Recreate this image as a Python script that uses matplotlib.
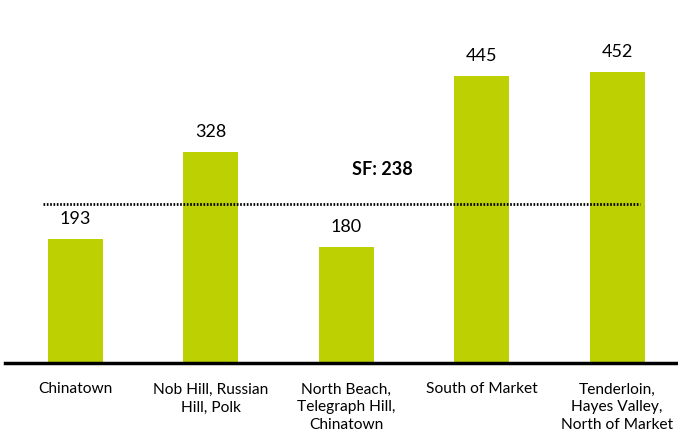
import matplotlib.pyplot as plt
import matplotlib.transforms as mtransforms

plt.rcParams['font.family'] = ['Lato', 'DejaVu Sans']

areas = ["Chinatown", "Nob Hill, Russian\nHill, Polk", "North Beach,\nTelegraph Hill,\nChinatown",
         "South of Market", "Tenderloin,\nHayes Valley,\nNorth of Market"]
values = [193, 328, 180, 445, 452]
sf_value = 238

bar_color = '#bdd002'

fig = plt.figure(figsize=(6.78, 4.45), dpi=100)
ax = fig.add_axes([5 / 678, 82 / 445, 673 / 678, 322 / 445])

x = list(range(len(values)))
ax.bar(x, values, width=0.406, color=bar_color)
for xi, v in zip(x, values):
    ax.annotate(str(v), (xi, v), xytext=(0, 12), textcoords='offset pixels',
                ha='center', va='bottom', fontsize=13)

# city-wide reference line (nudged up a few pixels like the original)
shift = mtransforms.ScaledTranslation(0, 6 / 100, fig.dpi_scale_trans)
ref = ax.axhline(sf_value, xmin=0.0565, xmax=0.9435, color='black', lw=2, ls=(0, (0.6, 0.6)))
ref.set_transform(ref.get_transform() + shift)
ax.annotate("SF: 238", (2.27, sf_value), xytext=(0, 32), textcoords='offset pixels',
            ha='center', va='bottom', fontsize=13, fontweight='bold')

ax.set_xlim(-0.517, 4.45)
ax.set_ylim(0, 500)
ax.set_xticks(x)
ax.set_xticklabels(areas, fontsize=11.2, linespacing=1.36)
ax.tick_params(axis='x', length=0, pad=14)
ax.set_yticks([])
for s in ['top', 'right', 'left']:
    ax.spines[s].set_visible(False)
ax.spines['bottom'].set_linewidth(2.5)

fig.savefig('out.png', dpi=100)
